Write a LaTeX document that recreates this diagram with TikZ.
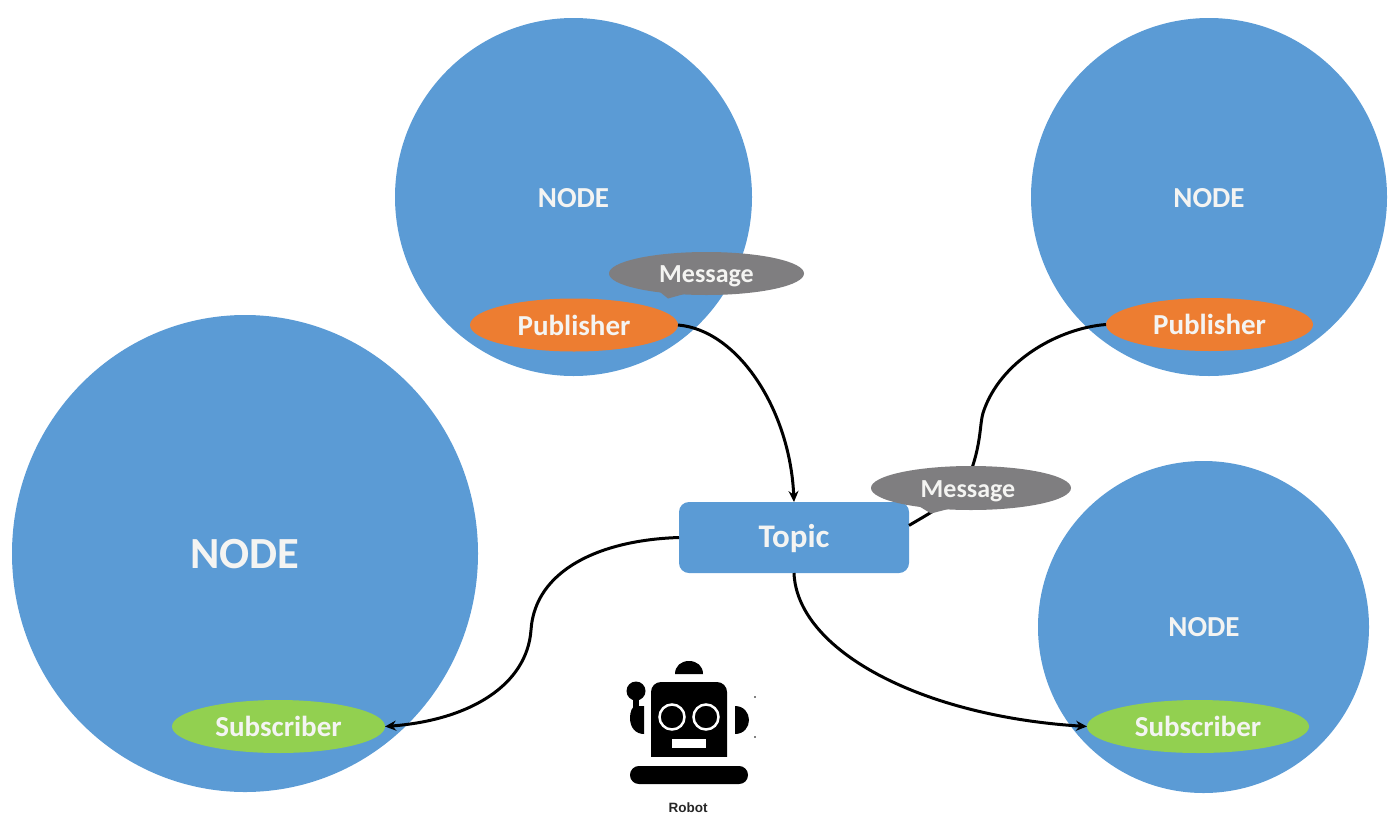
\documentclass[tikz,border=0pt]{standalone}
\usepackage{fontspec}
\setmainfont{Carlito}
\newfontfamily\labelfont{Liberation Sans}
\usetikzlibrary{shapes.geometric,arrows.meta}
\definecolor{nodeblue}{HTML}{5B9BD5}
\definecolor{puborange}{HTML}{ED7D31}
\definecolor{subgreen}{HTML}{92D050}
\definecolor{msggray}{HTML}{7F7E80}
\definecolor{softwhite}{HTML}{F4F4F2}
\tikzset{
  x=1pt,y=-1pt,
  blob/.style={ellipse,inner sep=0pt,outer sep=0pt,text=softwhite},
  bignode/.style={blob,fill=nodeblue},
  nodetext/.style={text=softwhite,font=\bfseries\fontsize{29}{32}\selectfont},
  pill/.style={blob,font=\bfseries\fontsize{29}{32}\selectfont,minimum height=53pt},
  pubnode/.style={pill,fill=puborange,minimum width=208pt},
  subnode/.style={pill,fill=subgreen},
  msgnode/.style={blob,fill=msggray,font=\bfseries\fontsize{26}{30}\selectfont},
  topicbox/.style={rectangle,rounded corners=10pt,fill=nodeblue,text=softwhite,minimum width=230pt,minimum height=71pt,inner sep=0pt,outer sep=0pt,font=\bfseries\fontsize{33}{36}\selectfont},
  wire/.style={draw=black,line width=3pt},
  arrowwire/.style={wire,-{Stealth[length=11pt,width=10pt]}},
  robotpart/.style={fill=black,draw=none},
}
\begin{document}
\begin{tikzpicture}
\useasboundingbox (0,0) rectangle (1394,817);
% big circles
\node[bignode,minimum width=357pt,minimum height=358pt] (n1) at (573.5,197) {};
\node[nodetext] (n1t) at (573.5,198) {NODE};
\node[bignode,minimum width=356pt,minimum height=358pt] (n2) at (1209,197) {};
\node[nodetext] (n2t) at (1209,198) {NODE};
\node[bignode,minimum width=466pt,minimum height=477pt] (n3) at (245,553.5) {};
\node[nodetext,font=\bfseries\fontsize{44.5}{48}\selectfont] (n3t) at (245,554) {NODE};
\node[bignode,minimum width=331pt,minimum height=332pt] (n4) at (1203.5,627) {};
\node[nodetext] (n4t) at (1204,627.5) {NODE};
% publishers and subscribers
\node[pubnode] (p1) at (574,325) {Publisher};
\node[pubnode,minimum width=207pt] (p2) at (1209.5,324.5) {Publisher};
\node[subnode,minimum width=213pt] (s1) at (278.5,726.5) {Subscriber};
\node[subnode,minimum width=222pt] (s2) at (1198,726.5) {Subscriber};
\node[topicbox] (topic) at (794,537.5) {\raisebox{-9.5pt}[10pt][10pt]{Topic}};
% connectors
\draw[arrowwire] (p1.east) .. controls (738,330) and (790,410) .. (topic.north);
\draw[wire] (p2.west) .. controls (1060,328) and (1000,360) .. (983,413)
   .. controls (980,423) and (981,440) .. (973,465)
   .. controls (965,495) and (935,510) .. (topic.6);
\draw[arrowwire] (topic.west) .. controls (600,540) and (535,570) .. (531,630)
   .. controls (527,685) and (470,720) .. (s1.east);
\draw[arrowwire] (topic.south) .. controls (797,650) and (920,716) .. (s2.west);
% messages
\fill[msggray] (655,288) -- (668,298.5) -- (695,291) -- cycle;
\node[msgnode,minimum width=195pt,minimum height=43pt] (m1) at (706.5,273.5) {\raisebox{-8.5pt}[10pt][10pt]{Message}};
\fill[msggray] (917,505) -- (931,513.5) -- (952,508) -- cycle;
\node[msgnode,minimum width=200pt,minimum height=44pt] (m2) at (971,488) {\raisebox{-9pt}[10pt][10pt]{Message}\hspace*{6pt}};
% robot
\fill[robotpart] (675,674) .. controls (675,666) and (681,661) .. (689,661)
   .. controls (697,661) and (703,666) .. (703,674) -- cycle;
\fill[robotpart,rounded corners=10pt] (651,770) -- (651,682) -- (727,682) -- (727,770) -- cycle;
\fill[white] (645,757) rectangle (733,772);
\draw[white,line width=2.5pt] (672,717) circle[radius=12.5];
\draw[white,line width=2.5pt] (706,717) circle[radius=12.5];
\fill[white] (672,739) rectangle (706,748);
\fill[robotpart,rounded corners=8.9pt] (630,766) rectangle (748,784);
\fill[robotpart] (636,691) circle[radius=9.5];
\fill[robotpart] (633,695) rectangle (639,708);
\fill[robotpart] (644,706) -- (636,706) .. controls (632,706) and (630,712) .. (630,718)
   .. controls (630,728) and (636,734) .. (644,734) -- cycle;
\fill[robotpart] (735,706) .. controls (744,706) and (749,713) .. (749,720)
   .. controls (749,727) and (744,734) .. (735,734) -- cycle;
\fill[robotpart] (755,697) circle[radius=0.8];
\fill[robotpart] (755,737) circle[radius=0.8];
\node[font=\labelfont\bfseries\fontsize{13.5}{15}\selectfont,text=black!85] (rl) at (688,808) {Robot};
\end{tikzpicture}
\end{document}
